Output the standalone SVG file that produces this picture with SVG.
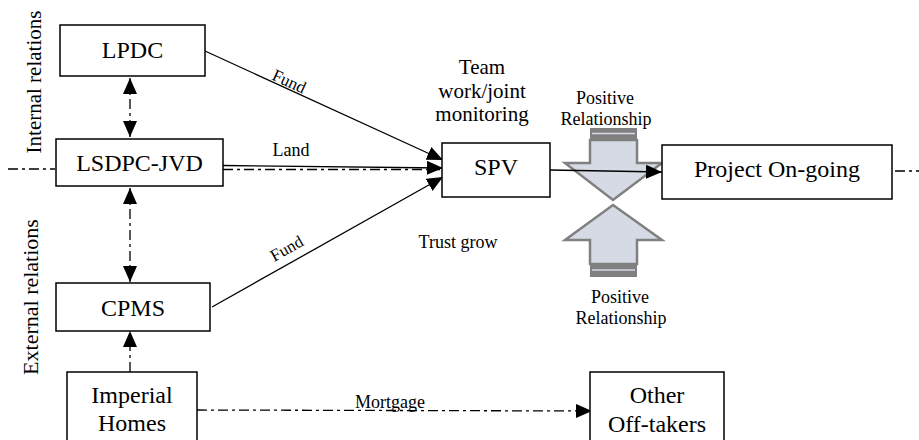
<svg xmlns="http://www.w3.org/2000/svg" width="919" height="440" viewBox="0 0 919 440" font-family="'Liberation Serif', 'DejaVu Serif', serif">
<style>
text{font-family:'Liberation Serif','DejaVu Serif',serif;fill:#000}
.box{fill:#fff;stroke:#000;stroke-width:1.5}
.lbl{font-size:24px;text-anchor:middle}
.sm{font-size:18px;text-anchor:middle}
.ln{stroke:#000;stroke-width:1.3;fill:none}
.dd{stroke:#000;stroke-width:1.3;fill:none;stroke-dasharray:10 4 3 4}
.big{fill:#d5dae4;stroke:#808080;stroke-width:2.5;stroke-linejoin:miter}
</style>
<defs>
<marker id="ah" markerUnits="userSpaceOnUse" markerWidth="16" markerHeight="14" refX="16" refY="7" orient="auto-start-reverse" viewBox="0 0 16 14">
<path d="M0,0 L16,7 L0,14 z" fill="#000"/>
</marker>
</defs>

<g id="PositiveTop">
<rect x="590" y="128" width="47" height="12" fill="#808080"/>
<line x1="592" y1="133.5" x2="635" y2="133.5" stroke="#d5dae4" stroke-width="1.5"/>
<polygon class="big" points="590,140 637,140 637,163 662,163 613,200 565,163 590,163"/>
<text class="sm" x="605" y="104">Positive</text>
<text class="sm" x="606" y="125">Relationship</text>
</g>
<g id="PositiveBottom">
<polygon class="big" points="613,205 662,240 637,240 637,264 590,264 590,240 565,240"/>
<rect x="590" y="264" width="47" height="13" fill="#808080"/>
<line x1="592" y1="270" x2="635" y2="270" stroke="#d5dae4" stroke-width="1.5"/>
<text class="sm" x="620" y="303">Positive</text>
<text class="sm" x="621" y="324">Relationship</text>
</g>

<g id="side-labels">
<text font-size="21" text-anchor="middle" transform="translate(41,82) rotate(-90)">Internal relations</text>
<text font-size="22" text-anchor="middle" transform="translate(38,297) rotate(-90)">External relations</text>
</g>

<g id="connectors">
<line class="dd" x1="8" y1="169" x2="55" y2="169"/>
<line class="dd" x1="895" y1="171" x2="919" y2="171"/>
<line class="ln" x1="205" y1="51" x2="443" y2="160" marker-end="url(#ah)"/>
<line class="ln" x1="223" y1="165.5" x2="443" y2="168" marker-end="url(#ah)"/>
<line class="dd" x1="223" y1="169.5" x2="440" y2="169.5"/>
<line class="ln" x1="212" y1="307" x2="443" y2="177" marker-end="url(#ah)"/>
<line class="ln" x1="550" y1="170" x2="662" y2="172" marker-end="url(#ah)"/>
<line class="dd" x1="130" y1="78" x2="130" y2="137" marker-start="url(#ah)" marker-end="url(#ah)"/>
<line class="dd" x1="130" y1="188" x2="130" y2="282" marker-start="url(#ah)" marker-end="url(#ah)"/>
<line class="dd" x1="130" y1="372" x2="130" y2="331" marker-end="url(#ah)"/>
<line class="dd" x1="197" y1="410" x2="592" y2="411" marker-end="url(#ah)"/>
<text font-size="17" text-anchor="middle" transform="translate(289,82) rotate(24.7)" y="5">Fund</text>
<text font-size="17" text-anchor="middle" transform="translate(287,249) rotate(-29.2)" y="5">Fund</text>
<text class="sm" x="291" y="156">Land</text>
<text class="sm" x="390" y="408">Mortgage</text>
</g>

<g id="LPDC"><rect class="box" x="60" y="25" width="145" height="51"/><text class="lbl" x="132.5" y="58">LPDC</text></g>
<g id="LSDPC-JVD"><rect class="box" x="56" y="139" width="167" height="47"/><text class="lbl" x="139.5" y="171">LSDPC-JVD</text></g>
<g id="CPMS"><rect class="box" x="56" y="283" width="154" height="48"/><text class="lbl" x="133" y="316">CPMS</text></g>
<g id="ImperialHomes"><rect class="box" x="67" y="372" width="130" height="80"/><text class="lbl" x="132" y="403">Imperial</text><text class="lbl" x="132" y="431">Homes</text></g>
<g id="SPV"><rect class="box" x="442" y="143" width="108" height="54"/><text class="lbl" x="496" y="175">SPV</text></g>
<g id="ProjectOngoing"><rect class="box" x="662" y="145" width="230" height="54"/><text class="lbl" x="777" y="177">Project On-going</text></g>
<g id="OtherOfftakers"><rect class="box" x="590" y="372" width="134" height="80"/><text class="lbl" x="657" y="403">Other</text><text class="lbl" x="657" y="432">Off-takers</text></g>

<g id="TeamWork">
<text font-size="21" text-anchor="middle" x="482" y="74">Team</text>
<text font-size="21" text-anchor="middle" x="482" y="98">work/joint</text>
<text font-size="21" text-anchor="middle" x="482" y="121">monitoring</text>
</g>
<g id="TrustGrow"><text class="sm" x="458" y="248">Trust grow</text></g>
</svg>
